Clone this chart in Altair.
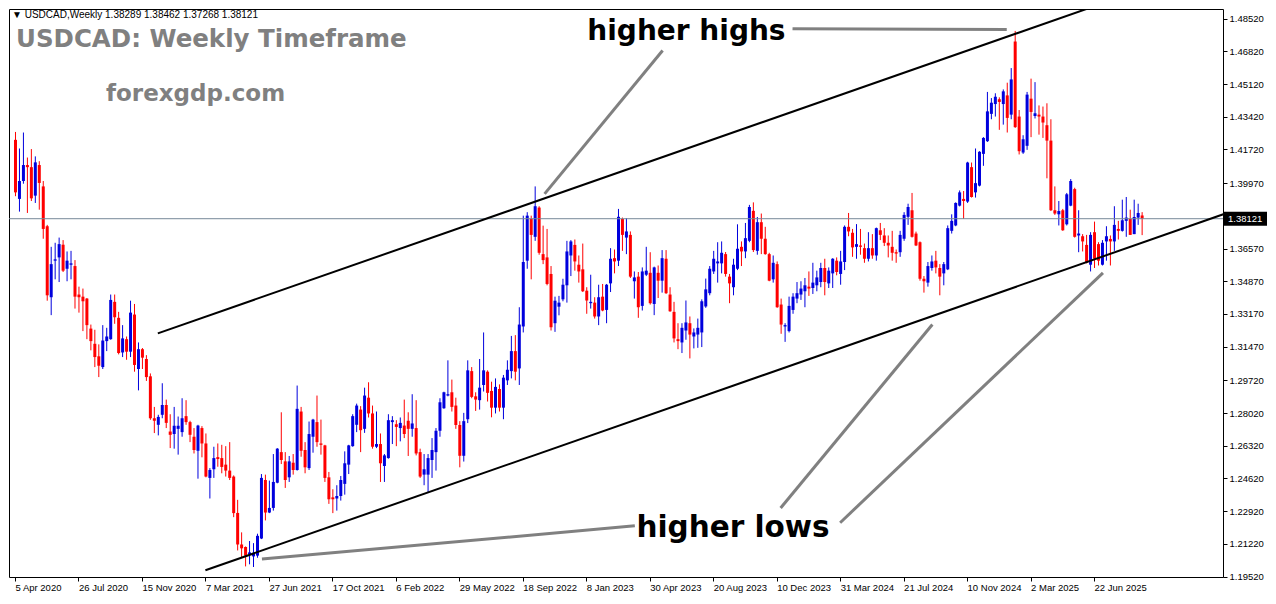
import json
import altair as alt
import pandas as pd

# ---------------- data (weekly OHLC, bar 0 = week of 5 Apr 2020) ----------------
opens = [1.4222, 1.3915, 1.4008, 1.4091, 1.4080, 1.3932, 1.4091, 1.3980, 1.3773, 1.3404,
         1.3594, 1.3611, 1.3677, 1.3552, 1.3573, 1.3566, 1.3418, 1.3407, 1.3397, 1.3241,
         1.3162, 1.3097, 1.3041, 1.3176, 1.3186, 1.3380, 1.3297, 1.3117, 1.3186, 1.3121,
         1.3314, 1.3031, 1.3134, 1.3083, 1.2993, 1.2775, 1.2741, 1.2793, 1.2844, 1.2706,
         1.2693, 1.2720, 1.2703, 1.2786, 1.2755, 1.2679, 1.2606, 1.2724, 1.2644, 1.2465,
         1.2510, 1.2573, 1.2568, 1.2534, 1.2503, 1.2472, 1.2283, 1.2119, 1.2106, 1.2068,
         1.2057, 1.2061, 1.2150, 1.2454, 1.2285, 1.2309, 1.2440, 1.2599, 1.2551, 1.2468,
         1.2544, 1.2506, 1.2810, 1.2610, 1.2516, 1.2679, 1.2755, 1.2644, 1.2634, 1.2468,
         1.2364, 1.2358, 1.2371, 1.2434, 1.2534, 1.2630, 1.2741, 1.2820, 1.2720, 1.2882,
         1.2800, 1.2627, 1.2641, 1.2527, 1.2568, 1.2755, 1.2744, 1.2724, 1.2737, 1.2762,
         1.2720, 1.2724, 1.2599, 1.2482, 1.2482, 1.2558, 1.2599, 1.2710, 1.2827, 1.2893,
         1.2910, 1.2841, 1.2740, 1.2580, 1.2770, 1.3020, 1.2889, 1.2869, 1.2948, 1.3017,
         1.2917, 1.2830, 1.2927, 1.2830, 1.2972, 1.3020, 1.3124, 1.3034, 1.3252, 1.3594,
         1.3811, 1.3718, 1.3870, 1.3628, 1.3611, 1.3525, 1.3269, 1.3355, 1.3393, 1.3466,
         1.3621, 1.3676, 1.3573, 1.3549, 1.3438, 1.3373, 1.3376, 1.3304, 1.3407, 1.3338,
         1.3476, 1.3607, 1.3594, 1.3811, 1.3714, 1.3728, 1.3487, 1.3511, 1.3359, 1.3521,
         1.3531, 1.3369, 1.3531, 1.3490, 1.3604, 1.3418, 1.3328, 1.3186, 1.3169, 1.3231,
         1.3269, 1.3200, 1.3210, 1.3221, 1.3356, 1.3425, 1.3538, 1.3580, 1.3580, 1.3628,
         1.3511, 1.3456, 1.3552, 1.3666, 1.3642, 1.3697, 1.3853, 1.3645, 1.3794, 1.3708,
         1.3628, 1.3497, 1.3576, 1.3366, 1.3252, 1.3228, 1.3338, 1.3397, 1.3418, 1.3435,
         1.3459, 1.3452, 1.3466, 1.3483, 1.3556, 1.3476, 1.3528, 1.3594, 1.3525, 1.3587,
         1.3770, 1.3739, 1.3666, 1.3673, 1.3659, 1.3604, 1.3659, 1.3621, 1.3752, 1.3725,
         1.3687, 1.3666, 1.3638, 1.3638, 1.3708, 1.3822, 1.3856, 1.3735, 1.3690, 1.3500,
         1.3480, 1.3556, 1.3594, 1.3556, 1.3528, 1.3549, 1.3749, 1.3777, 1.3880, 1.3915,
         1.3901, 1.4080, 1.3949, 1.3984, 1.4149, 1.4215, 1.4357, 1.4408, 1.4433, 1.4408,
         1.4453, 1.4353, 1.4733, 1.4343, 1.4156, 1.4191, 1.4436, 1.4346, 1.4353, 1.4343,
         1.4298, 1.4218, 1.3856, 1.3835, 1.3856, 1.3783, 1.3880, 1.3966, 1.3725, 1.3721,
         1.3676, 1.3573, 1.3742, 1.3680, 1.3573, 1.3694, 1.3707, 1.3694, 1.3759, 1.3749,
         1.3801, 1.3811, 1.3732, 1.3818, 1.38289]
highs = [1.4263, 1.4177, 1.4260, 1.4130, 1.4174, 1.4136, 1.4111, 1.4008, 1.3780, 1.3666,
         1.3687, 1.3714, 1.3701, 1.3642, 1.3645, 1.3597, 1.3459, 1.3449, 1.3400, 1.3262,
         1.3235, 1.3159, 1.3259, 1.3245, 1.3418, 1.3418, 1.3328, 1.3259, 1.3200, 1.3386,
         1.3369, 1.3169, 1.3140, 1.3103, 1.3008, 1.2834, 1.2793, 1.2957, 1.2872, 1.2796,
         1.2834, 1.2784, 1.2879, 1.2869, 1.2762, 1.2724, 1.2741, 1.2734, 1.2696, 1.2516,
         1.2627, 1.2644, 1.2637, 1.2630, 1.2651, 1.2478, 1.2351, 1.2182, 1.2109, 1.2137,
         1.2126, 1.2175, 1.2485, 1.2482, 1.2451, 1.2589, 1.2620, 1.2806, 1.2599, 1.2579,
         1.2589, 1.2945, 1.2834, 1.2651, 1.2758, 1.2772, 1.2893, 1.2768, 1.2637, 1.2496,
         1.2406, 1.2427, 1.2475, 1.2603, 1.2637, 1.2796, 1.2851, 1.2838, 1.2934, 1.2962,
         1.2841, 1.2810, 1.2696, 1.2589, 1.2796, 1.2786, 1.2765, 1.2779, 1.2872, 1.2806,
         1.2900, 1.2869, 1.2617, 1.2589, 1.2589, 1.2672, 1.2724, 1.2879, 1.2913, 1.3076,
         1.2976, 1.2882, 1.2760, 1.2803, 1.3076, 1.3041, 1.2910, 1.3083, 1.3221, 1.3024,
         1.2965, 1.2982, 1.2951, 1.3000, 1.3076, 1.3203, 1.3207, 1.3352, 1.3828, 1.3846,
         1.3828, 1.3980, 1.3877, 1.3776, 1.3759, 1.3566, 1.3407, 1.3411, 1.3500, 1.3697,
         1.3701, 1.3704, 1.3621, 1.3683, 1.3456, 1.3521, 1.3404, 1.3469, 1.3473, 1.3473,
         1.3659, 1.3652, 1.3863, 1.3818, 1.3815, 1.3746, 1.3538, 1.3535, 1.3559, 1.3666,
         1.3638, 1.3563, 1.3569, 1.3649, 1.3649, 1.3456, 1.3380, 1.3269, 1.3269, 1.3387,
         1.3304, 1.3242, 1.3293, 1.3393, 1.3501, 1.3566, 1.3645, 1.3690, 1.3694, 1.3639,
         1.3525, 1.3604, 1.3783, 1.3694, 1.3790, 1.3884, 1.3897, 1.3821, 1.3839, 1.3770,
         1.3635, 1.3621, 1.3590, 1.3397, 1.3269, 1.3407, 1.3425, 1.3483, 1.3487, 1.3504,
         1.3538, 1.3583, 1.3542, 1.3583, 1.3604, 1.3559, 1.3607, 1.3611, 1.3645, 1.3777,
         1.3842, 1.3759, 1.3784, 1.3759, 1.3683, 1.3742, 1.3732, 1.3766, 1.3790, 1.3763,
         1.3725, 1.3749, 1.3652, 1.3749, 1.3846, 1.3890, 1.3946, 1.3745, 1.3694, 1.3514,
         1.3587, 1.3621, 1.3645, 1.3576, 1.3587, 1.3777, 1.3835, 1.3897, 1.3959, 1.3956,
         1.4108, 1.4104, 1.4177, 1.4163, 1.4236, 1.4471, 1.4439, 1.4464, 1.4443, 1.4484,
         1.4519, 1.4595, 1.4788, 1.4377, 1.4246, 1.4471, 1.4540, 1.4522, 1.4401, 1.4395,
         1.4412, 1.4329, 1.3980, 1.3904, 1.3863, 1.3946, 1.4018, 1.3973, 1.3856, 1.3732,
         1.3728, 1.3742, 1.3797, 1.3690, 1.3701, 1.3773, 1.3725, 1.3877, 1.3801, 1.3911,
         1.3925, 1.3859, 1.3911, 1.3890, 1.38462]
lows = [1.3929, 1.3849, 1.3994, 1.3842, 1.3904, 1.3894, 1.3859, 1.3708, 1.3386, 1.3311,
        1.3497, 1.3483, 1.3535, 1.3487, 1.3497, 1.3345, 1.3324, 1.3228, 1.3186, 1.3128,
        1.3041, 1.2989, 1.3031, 1.3124, 1.3183, 1.3266, 1.3107, 1.3093, 1.3079, 1.3093,
        1.3017, 1.2920, 1.3031, 1.2969, 1.2767, 1.2698, 1.2686, 1.2775, 1.2724, 1.2620,
        1.2617, 1.2586, 1.2679, 1.2741, 1.2651, 1.2592, 1.2461, 1.2572, 1.2468, 1.2358,
        1.2465, 1.2523, 1.2489, 1.2472, 1.2454, 1.2261, 1.2088, 1.2054, 1.2005, 1.2016,
        1.2002, 1.2050, 1.2147, 1.2244, 1.2282, 1.2295, 1.2437, 1.2537, 1.2413, 1.2444,
        1.2482, 1.2503, 1.2575, 1.2489, 1.2506, 1.2596, 1.2627, 1.2586, 1.2444, 1.2330,
        1.2282, 1.2295, 1.2347, 1.2378, 1.2485, 1.2627, 1.2703, 1.2599, 1.2699, 1.2779,
        1.2617, 1.2620, 1.2444, 1.2444, 1.2565, 1.2641, 1.2630, 1.2655, 1.2672, 1.2579,
        1.2679, 1.2582, 1.2465, 1.2427, 1.2392, 1.2465, 1.2503, 1.2679, 1.2824, 1.2889,
        1.2810, 1.2720, 1.2520, 1.2550, 1.2750, 1.2879, 1.2813, 1.2820, 1.2914, 1.2862,
        1.2780, 1.2800, 1.2810, 1.2770, 1.2948, 1.2982, 1.2972, 1.2948, 1.3221, 1.3552,
        1.3497, 1.3697, 1.3625, 1.3576, 1.3466, 1.3231, 1.3224, 1.3310, 1.3383, 1.3376,
        1.3514, 1.3542, 1.3480, 1.3431, 1.3318, 1.3345, 1.3293, 1.3259, 1.3331, 1.3269,
        1.3431, 1.3528, 1.3566, 1.3645, 1.3628, 1.3504, 1.3397, 1.3297, 1.3335, 1.3514,
        1.3366, 1.3311, 1.3400, 1.3428, 1.3421, 1.3328, 1.3169, 1.3134, 1.3114, 1.3183,
        1.3086, 1.3138, 1.3141, 1.3145, 1.3349, 1.3414, 1.3525, 1.3480, 1.3528, 1.3511,
        1.3373, 1.3414, 1.3545, 1.3566, 1.3607, 1.3690, 1.3639, 1.3625, 1.3628, 1.3625,
        1.3487, 1.3480, 1.3349, 1.3214, 1.3172, 1.3221, 1.3318, 1.3373, 1.3390, 1.3352,
        1.3411, 1.3421, 1.3435, 1.3456, 1.3414, 1.3452, 1.3452, 1.3518, 1.3469, 1.3545,
        1.3721, 1.3614, 1.3604, 1.3625, 1.3583, 1.3590, 1.3604, 1.3594, 1.3701, 1.3670,
        1.3611, 1.3594, 1.3583, 1.3614, 1.3697, 1.3780, 1.3714, 1.3670, 1.3490, 1.3428,
        1.3459, 1.3542, 1.3528, 1.3414, 1.3466, 1.3545, 1.3735, 1.3773, 1.3876, 1.3811,
        1.3894, 1.3922, 1.3922, 1.3980, 1.4087, 1.4211, 1.4329, 1.4343, 1.4274, 1.4301,
        1.4260, 1.4329, 1.4284, 1.4146, 1.4149, 1.4170, 1.4236, 1.4333, 1.4249, 1.4232,
        1.4022, 1.3852, 1.3832, 1.3777, 1.3749, 1.3777, 1.3877, 1.3714, 1.3638, 1.3642,
        1.3580, 1.3538, 1.3556, 1.3569, 1.3569, 1.3594, 1.3569, 1.3645, 1.3704, 1.3745,
        1.3718, 1.3728, 1.3732, 1.3780, 1.37268]
closes = [1.3949, 1.4008, 1.4091, 1.4080, 1.3918, 1.4105, 1.3998, 1.3759, 1.3414, 1.3576,
          1.3601, 1.3680, 1.3542, 1.3594, 1.3580, 1.3407, 1.3404, 1.3383, 1.3259, 1.3176,
          1.3093, 1.3048, 1.3179, 1.3200, 1.3390, 1.3300, 1.3114, 1.3190, 1.3121, 1.3324,
          1.3052, 1.3134, 1.3090, 1.2989, 1.2775, 1.2762, 1.2782, 1.2844, 1.2751, 1.2689,
          1.2736, 1.2736, 1.2775, 1.2755, 1.2689, 1.2610, 1.2737, 1.2644, 1.2472, 1.2506,
          1.2568, 1.2563, 1.2522, 1.2503, 1.2465, 1.2282, 1.2119, 1.2099, 1.2061, 1.2078,
          1.2076, 1.2164, 1.2465, 1.2285, 1.2309, 1.2444, 1.2617, 1.2558, 1.2454, 1.2551,
          1.2506, 1.2824, 1.2606, 1.2520, 1.2693, 1.2768, 1.2651, 1.2637, 1.2465, 1.2354,
          1.2354, 1.2371, 1.2454, 1.2541, 1.2634, 1.2786, 1.2841, 1.2713, 1.2893, 1.2800,
          1.2627, 1.2641, 1.2541, 1.2582, 1.2765, 1.2765, 1.2730, 1.2751, 1.2693, 1.2720,
          1.2748, 1.2592, 1.2472, 1.2510, 1.2568, 1.2610, 1.2710, 1.2858, 1.2910, 1.2900,
          1.2834, 1.2740, 1.2580, 1.2760, 1.3024, 1.2886, 1.2872, 1.2934, 1.3024, 1.2907,
          1.2830, 1.2938, 1.2830, 1.2986, 1.3027, 1.3124, 1.3017, 1.3262, 1.3587, 1.3828,
          1.3728, 1.3877, 1.3635, 1.3597, 1.3473, 1.3248, 1.3386, 1.3376, 1.3469, 1.3642,
          1.3694, 1.3590, 1.3538, 1.3435, 1.3387, 1.3380, 1.3304, 1.3404, 1.3335, 1.3469,
          1.3604, 1.3590, 1.3822, 1.3728, 1.3746, 1.3511, 1.3507, 1.3352, 1.3538, 1.3542,
          1.3373, 1.3559, 1.3490, 1.3607, 1.3425, 1.3331, 1.3190, 1.3176, 1.3245, 1.3273,
          1.3210, 1.3221, 1.3245, 1.3383, 1.3445, 1.3552, 1.3604, 1.3590, 1.3635, 1.3525,
          1.3476, 1.3573, 1.3656, 1.3642, 1.3711, 1.3873, 1.3649, 1.3794, 1.3708, 1.3628,
          1.3490, 1.3583, 1.3352, 1.3262, 1.3259, 1.3359, 1.3407, 1.3425, 1.3449, 1.3466,
          1.3449, 1.3480, 1.3507, 1.3556, 1.3483, 1.3542, 1.3604, 1.3535, 1.3590, 1.3770,
          1.3746, 1.3663, 1.3680, 1.3666, 1.3604, 1.3659, 1.3621, 1.3763, 1.3728, 1.3687,
          1.3673, 1.3635, 1.3631, 1.3728, 1.3832, 1.3873, 1.3718, 1.3673, 1.3500, 1.3487,
          1.3566, 1.3590, 1.3559, 1.3511, 1.3576, 1.3763, 1.3801, 1.3894, 1.3949, 1.3904,
          1.4104, 1.3925, 1.3997, 1.4160, 1.4232, 1.4370, 1.4415, 1.4446, 1.4419, 1.4474,
          1.4336, 1.4536, 1.4288, 1.4163, 1.4225, 1.4457, 1.4367, 1.4360, 1.4343, 1.4312,
          1.4218, 1.3856, 1.3839, 1.3852, 1.3752, 1.3939, 1.4008, 1.3718, 1.3735, 1.3694,
          1.3583, 1.3728, 1.3604, 1.3594, 1.3687, 1.3721, 1.3694, 1.3780, 1.3749, 1.3804,
          1.3818, 1.3728, 1.3821, 1.3842, 1.38121]

x_tick_labels = ["5 Apr 2020", "26 Jul 2020", "15 Nov 2020", "7 Mar 2021", "27 Jun 2021",
                 "17 Oct 2021", "6 Feb 2022", "29 May 2022", "18 Sep 2022", "8 Jan 2023",
                 "30 Apr 2023", "20 Aug 2023", "10 Dec 2023", "31 Mar 2024", "21 Jul 2024",
                 "10 Nov 2024", "2 Mar 2025", "22 Jun 2025"]
x_tick_bars = [16 * k for k in range(len(x_tick_labels))]
y_tick_values = [1.4852, 1.4682, 1.4512, 1.4342, 1.4172, 1.3997, 1.3657, 1.3487, 1.3317,
                 1.3147, 1.2972, 1.2802, 1.2632, 1.2462, 1.2292, 1.2122, 1.1952]
last_price = 1.38121
header_text = "\u25bc USDCAD,Weekly  1.38289 1.38462 1.37268 1.38121"

# channel trend lines (bar index, price)
channel_x1 = [36.0, 48.0]
channel_y1 = [1.3216, 1.1985]
channel_x2 = [274.25, 306.25]
channel_y2 = [1.4932, 1.3847]

# grey pointer lines (bar index, price)
pointer_x1 = [196.0, 163.25, 156.25, 193.0, 208.0]
pointer_y1 = [1.4800, 1.4686, 1.2216, 1.2309, 1.2232]
pointer_x2 = [250.0, 133.5, 62.25, 231.25, 274.25]
pointer_y2 = [1.4795, 1.3941, 1.2043, 1.3262, 1.3531]

note_texts = ["higher highs", "higher lows"]
note_x = [169.25, 181.0]
note_y = [1.4785, 1.2206]

# ---------------- layout ----------------
W = 1214
H = 568
X_DOMAIN = [-0.25, 303.25]
Y_DOMAIN = [1.1950, 1.4902]
UP = "#0000dd"
DOWN = "#ff0000"
AXFONT = "Liberation Sans"

candles = pd.DataFrame({
    "i": list(range(len(opens))),
    "open": opens, "high": highs, "low": lows, "close": closes,
})
candles["dir"] = ["up" if c >= o else "down" for o, c in zip(opens, closes)]

xs = alt.Scale(domain=X_DOMAIN, nice=False, zero=False)
ys = alt.Scale(domain=Y_DOMAIN, nice=False, zero=False)
cscale = alt.Scale(domain=["up", "down"], range=[UP, DOWN])

label_expr = json.dumps(x_tick_labels) + "[round(datum.value / 16)]"

x_axis = alt.Axis(values=x_tick_bars, labelExpr=label_expr, title=None, grid=False,
                  domain=False, ticks=True, tickSize=4, tickColor="#000000",
                  labelAlign="left", labelPadding=1, labelFlush=False, labelOverlap=False,
                  labelFont=AXFONT, labelFontSize=9.5, labelColor="#000000")
y_axis = alt.Axis(values=y_tick_values, format=".5f", orient="right", title=None,
                  grid=False, domain=False, ticks=True, tickSize=4, tickColor="#000000",
                  labelPadding=2, labelFlush=False, labelOverlap=False,
                  labelFont=AXFONT, labelFontSize=9.5, labelColor="#000000")


def X(field):
    return alt.X(field, scale=xs, axis=x_axis)


def Y(field):
    return alt.Y(field, scale=ys, axis=y_axis)


base = alt.Chart(candles)

wicks = base.mark_rule(strokeWidth=1, xOffset=0.5).encode(
    x=X("i:Q"), y=Y("low:Q"), y2="high:Q",
    color=alt.Color("dir:N", scale=cscale, legend=None),
)
bodies = base.mark_bar(size=3, xOffset=0.5).encode(
    x=X("i:Q"), y=Y("open:Q"), y2="close:Q",
    color=alt.Color("dir:N", scale=cscale, legend=None),
)

bid_df = pd.DataFrame({"p": [last_price], "t": [f"{last_price:.5f}"]})
bid_line = alt.Chart(bid_df).mark_rule(color="#778899", strokeWidth=1).encode(
    y=Y("p:Q"),
)

chan_df = pd.DataFrame({"x1": channel_x1, "y1": channel_y1, "x2": channel_x2, "y2": channel_y2})
channels = alt.Chart(chan_df).mark_rule(color="#000000", strokeWidth=2, clip=True).encode(
    x=X("x1:Q"), x2="x2:Q", y=Y("y1:Q"), y2="y2:Q",
)

ptr_df = pd.DataFrame({"x1": pointer_x1, "y1": pointer_y1, "x2": pointer_x2, "y2": pointer_y2})
pointers = alt.Chart(ptr_df).mark_rule(color="#808080", strokeWidth=3).encode(
    x=X("x1:Q"), x2="x2:Q", y=Y("y1:Q"), y2="y2:Q",
)

note_df = pd.DataFrame({"t": note_texts, "x": note_x, "y": note_y})
note_hi = alt.Chart(note_df.iloc[[0]]).mark_text(
    font="DejaVu Sans", fontWeight="bold", fontSize=28, color="#000000",
    align="center", baseline="middle",
).encode(x=X("x:Q"), y=Y("y:Q"), text="t:N")
note_lo = alt.Chart(note_df.iloc[[1]]).mark_text(
    font="DejaVu Sans", fontWeight="bold", fontSize=29.5, color="#000000",
    align="center", baseline="middle",
).encode(x=X("x:Q"), y=Y("y:Q"), text="t:N")

hdr_df = pd.DataFrame({"t": [header_text]})
header = alt.Chart(hdr_df).mark_text(
    font=AXFONT, fontSize=10, color="#000000", align="left", baseline="middle",
).encode(x=alt.value(3), y=alt.value(6), text="t:N")

brand_df = pd.DataFrame({"t": ["USDCAD: Weekly Timeframe", "forexgdp.com"]})
brand1 = alt.Chart(brand_df.iloc[[0]]).mark_text(
    font="DejaVu Sans", fontWeight="bold", fontSize=24.5, color="#808080",
    align="left", baseline="middle",
).encode(x=alt.value(7), y=alt.value(31), text="t:N")
brand2 = alt.Chart(brand_df.iloc[[1]]).mark_text(
    font="DejaVu Sans", fontWeight="bold", fontSize=23, color="#808080",
    align="left", baseline="middle",
).encode(x=alt.value(97), y=alt.value(85), text="t:N")

price_box = alt.Chart(bid_df).mark_tick(
    orient="horizontal", size=44, thickness=14, color="#000000", opacity=1,
).encode(x=alt.value(W + 22), y=Y("p:Q"))
price_txt = alt.Chart(bid_df).mark_text(
    font=AXFONT, fontSize=9.5, color="#ffffff", align="left", baseline="middle",
).encode(x=alt.value(W + 5), y=Y("p:Q"), text="t:N")

chart = alt.layer(
    wicks, bodies, bid_line, channels, pointers, note_hi, note_lo, header, brand1, brand2,
    price_box, price_txt,
).properties(
    width=W, height=H, background="#ffffff",
    autosize=alt.AutoSizeParams(type="none"),
    padding={"left": 1, "top": 1, "right": 45, "bottom": 17},
).configure_view(
    stroke="#000000", strokeWidth=1,
)

chart.save("out.html", embed_options={"renderer": "svg", "actions": False})
